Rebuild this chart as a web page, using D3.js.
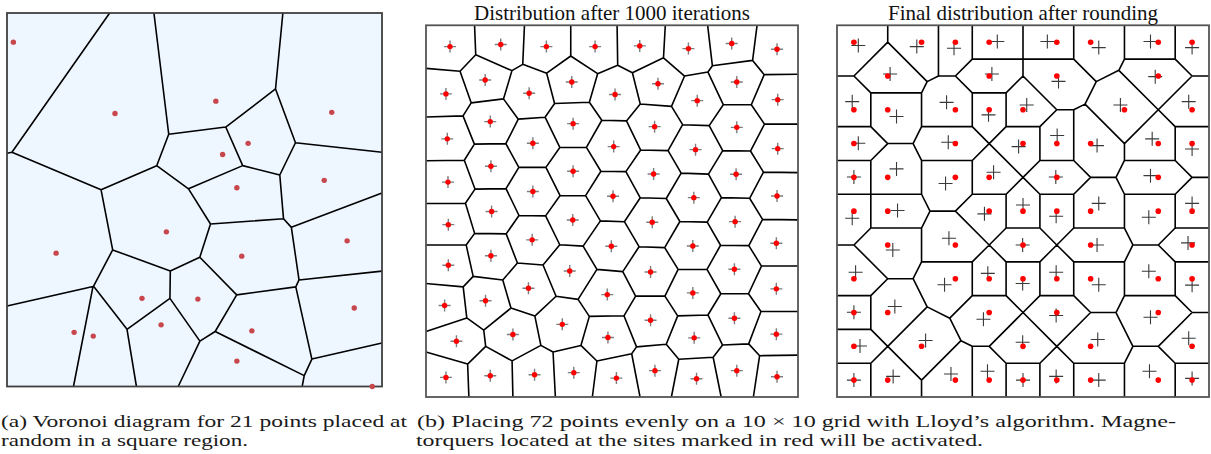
<!DOCTYPE html>
<html><head><meta charset="utf-8">
<script src="https://cdn.jsdelivr.net/npm/d3@7"></script>
<style>body{margin:0;background:#fff}svg{display:block}</style>
</head><body>
<svg id="fig" width="1211" height="454"></svg>
<script>
// (a) 21 random sites in the unit square (y measured upward)
const randX = [0.017,0.288,0.557,0.866,0.643,0.575,0.613,0.846,0.131,0.425,0.360,0.509,0.411,0.179,0.230,0.626,0.907,0.926,0.653,0.613,0.974];
const randY = [0.922,0.731,0.764,0.734,0.651,0.621,0.532,0.552,0.357,0.414,0.236,0.234,0.165,0.145,0.135,0.349,0.390,0.210,0.149,0.068,0.000];

// (b) 72 sites after 1000 Lloyd iterations, grid units (column, row from top)
const lloydX = [0.21,1.71,3.06,4.50,5.82,7.26,8.54,9.88, 1.25,3.81,6.36,8.69, 0.09,2.55,5.09,7.52,9.90,
  1.40,3.85,6.26,8.69, 0.13,2.66,5.05,7.47,9.90, 1.42,3.85,6.23,8.67, 0.15,2.66,5.03,7.42,9.88,
  1.44,3.84,6.19,8.64, 0.16,2.64,4.98,7.39,9.86, 1.42,3.75,6.14,8.62, 0.16,2.53,4.86,7.39,9.86,
  1.26,0.05,3.53,6.14,8.62, 2.07,0.40,4.88,7.43,9.86, 0.09,1.40,2.71,3.87,5.13,6.27,7.50,8.69,9.88];
const lloydY = [0.13,0.07,0.13,0.13,0.11,0.19,0.04,0.21, 1.12,1.18,1.23,1.18, 1.53,1.51,1.55,1.73,1.70,
  2.35,2.41,2.50,2.52, 2.86,2.99,3.09,3.18,3.15, 3.67,3.82,3.90,3.91, 4.14,4.42,4.56,4.60,4.55,
  5.01,5.26,5.33,5.31, 5.40,5.85,6.04,6.03,5.95, 6.32,6.77,6.80,6.72, 6.60,7.28,7.47,7.42,7.30,
  7.65,7.79,8.35,8.23,8.17, 8.65,8.85,8.74,8.75,8.64, 9.92,9.87,9.84,9.78,9.94,9.72,9.96,9.72,9.90];

// (c) positions before rounding (crosses) and the grid sites they were rounded to (red)
const preX = [0.13,1.86,2.96,4.24,5.72,7.24,8.77,10.0, 1.07,4.08,6.05,8.91, -0.05,1.26,2.74,3.98,5.11,7.88,9.90,
  0.13,2.79,4.87,6.01,7.19,8.82,10.0, 0.00,1.26,2.71,4.13,5.97,8.77, -0.05,1.29,3.86,5.00,5.98,7.24,8.72,10.0,
  1.15,2.81,4.99,7.19,9.88, 0.05,2.68,3.96,4.99,5.98,7.24,8.72,10.0, 0.00,1.21,3.83,5.98,8.77,
  0.18,2.12,4.99,7.21,9.90, 0.00,1.16,2.87,3.95,5.00,5.98,7.24,8.74,10.0];
const preY = [0.10,0.13,0.18,-0.02,-0.02,0.16,-0.02,0.16, 0.94,0.94,1.16,1.02, 1.76,2.20,1.78,2.15,1.86,1.86,1.76,
  2.99,2.96,3.09,2.76,3.06,2.86,3.16, 3.99,3.75,4.18,3.85,3.99,3.95, 5.21,4.98,5.08,4.82,5.15,4.77,5.18,4.77,
  6.15,5.80,6.00,6.00,5.94, 6.81,7.18,6.84,7.14,6.81,7.18,6.78,7.19, 7.99,7.82,8.20,8.09,8.14,
  8.99,8.83,8.88,8.80,8.76, 10.0,9.89,9.82,9.74,10.0,9.89,10.0,9.74,9.95];
const siteCol = [0,2,3,4,6,7,9,10, 1,4,6,9, 0,1,3,4,5,8,10, 0,3,5,6,7,9,10, 0,1,3,4,6,9, 0,1,4,5,6,7,9,10,
  1,3,5,7,10, 0,3,4,5,6,7,9,10, 0,1,4,6,9, 0,2,5,7,10, 0,1,3,4,5,6,7,9,10];
const siteRow = [0,0,0,0,0,0,0,0, 1,1,1,1, 2,2,2,2,2,2,2, 3,3,3,3,3,3,3, 4,4,4,4,4,4, 5,5,5,5,5,5,5,5,
  6,6,6,6,6, 7,7,7,7,7,7,7,7, 8,8,8,8,8, 9,9,9,9,9, 10,10,10,10,10,10,10,10,10];

const titles = ["Distribution after 1000 iterations", "Final distribution after rounding"];
const captionA = ["(a) Voronoi diagram for 21 points placed at", "random in a square region."];
const captionB = ["(b) Placing 72 points evenly on a 10 \u00d7 10 grid with Lloyd\u2019s algorithm. Magne-",
  "torquers located at the sites marked in red will be activated."];

const svg = d3.select("#fig");

function voronoiPanel(g, xs, ys, px, py, fill, frameColor) {
  const [x0, x1] = xs.range(), [y0, y1] = ys.range();
  const L = Math.min(x0, x1), R = Math.max(x0, x1), T = Math.min(y0, y1), B = Math.max(y0, y1);
  g.append("rect").attr("x", L).attr("y", T).attr("width", R - L).attr("height", B - T)
    .attr("fill", fill);
  const pts = px.map((d, i) => [xs(d), ys(py[i])]);
  const vor = d3.Delaunay.from(pts).voronoi([L, T, R, B]);
  g.append("path").attr("d", vor.render()).attr("fill", "none")
    .attr("stroke", "#000").attr("stroke-width", 1.6).attr("stroke-linejoin", "round");
  g.append("rect").attr("x", L).attr("y", T).attr("width", R - L).attr("height", B - T)
    .attr("fill", "none").attr("stroke", frameColor).attr("stroke-width", 1.8);
}

function crosses(g, xs, ys, px, py, half, color, width) {
  const path = d3.path();
  px.forEach((d, i) => {
    const cx = xs(d), cy = ys(py[i]);
    path.moveTo(cx - half, cy); path.lineTo(cx + half, cy);
    path.moveTo(cx, cy - half); path.lineTo(cx, cy + half);
  });
  g.append("path").attr("d", path.toString()).attr("fill", "none")
    .attr("stroke", color).attr("stroke-width", width);
}

function dots(g, xs, ys, px, py, r, color) {
  g.selectAll(null).data(px).join("circle")
    .attr("cx", d => xs(d)).attr("cy", (d, i) => ys(py[i]))
    .attr("r", r).attr("fill", color);
}

// Panel (a): Voronoi diagram of random sites
const xA = d3.scaleLinear([0, 1], [7, 382]);
const yA = d3.scaleLinear([0, 1], [386.5, 13]);
const gA = svg.append("g");
voronoiPanel(gA, xA, yA, randX, randY, "#eef6ff", "#404040");
dots(gA, xA, yA, randX, randY, 2.7, "#c8474c");

// Panel (b): sites after Lloyd relaxation
const xB = d3.scaleLinear([-0.5, 10.5], [426, 798]);
const yB = d3.scaleLinear([-0.5, 10.5], [25.3, 397]);
const gB = svg.append("g");
voronoiPanel(gB, xB, yB, lloydX, lloydY, "#fff", "#555");
crosses(gB, xB, yB, lloydX, lloydY, 6, "#7e7e7e", 1.4);
dots(gB, xB, yB, lloydX, lloydY, 2.7, "#ff0000");

// Panel (c): sites rounded onto the grid
const xC = d3.scaleLinear([-0.5, 10.5], [837, 1209]);
const yC = d3.scaleLinear([-0.5, 10.5], [25.3, 397]);
const gC = svg.append("g");
voronoiPanel(gC, xC, yC, siteCol, siteRow, "#fff", "#555");
crosses(gC, xC, yC, preX, preY, 7, "#3a3a3a", 1.1);
dots(gC, xC, yC, siteCol, siteRow, 2.8, "#ff0000");

// Panel titles
const serif = "'Liberation Serif', 'Times New Roman', serif";
[[xB, titles[0]], [xC, titles[1]]].forEach(([xs, t]) => {
  svg.append("text").attr("x", (xs.range()[0] + xs.range()[1]) / 2).attr("y", 20)
    .attr("text-anchor", "middle").style("font-family", serif).attr("font-size", 21)
    .attr("fill", "#111").text(t);
});

// Captions
const capLines = [
  [captionA[0], 1, 427, 406], [captionA[1], 1, 446, 247],
  [captionB[0], 417, 427, 759], [captionB[1], 416, 446, 567]
];
capLines.forEach(([t, x, y, w]) => {
  svg.append("text").attr("x", x).attr("y", y).style("font-family", serif)
    .attr("font-size", 17).attr("fill", "#1a1a1a")
    .attr("textLength", w).attr("lengthAdjust", "spacingAndGlyphs").text(t);
});
</script>
</body></html>
